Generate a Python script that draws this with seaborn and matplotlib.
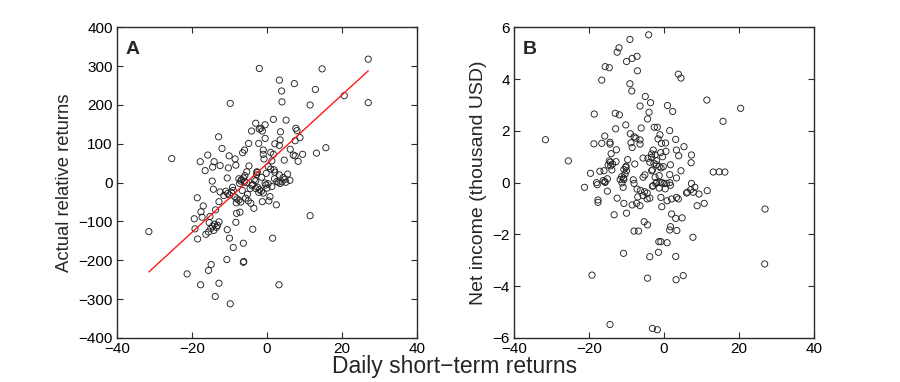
import numpy as np
import pandas as pd
import matplotlib
matplotlib.use("Agg")
import matplotlib.pyplot as plt
import seaborn as sns

# ---------------- data ----------------
# Panel A: daily short-term returns vs actual relative returns
a_x = [-2.05, 27.0, 14.7, 3.3, 7.3, 3.9, 12.9, 20.6, -9.8, 4.0, 27.0, 11.5, 1.7, 5.1,
       -3.0, -0.5, -4.1, -2.05, -1.6, -1.25, 3.6, 7.7, 8.0, -12.9, 8.8, -0.5, 3.5, 7.5,
       -4.9, -2.2, 2.1, 3.3, -12.0, 6.2, 15.7, -6.0, -1.0, -6.5, 1.0, 13.2, 9.5, 7.0,
       7.5, -1.0, 1.7, -15.8, -10.1, -8.5, -25.4, 4.6, 8.3, -0.8, 1.3, -17.8, -14.1,
       -12.5, -8.3, -4.8, 0.35, -14.5, -10.3, 1.0, 1.9, -16.5, -5.4, -2.7, -2.6, 3.3,
       5.5, 2.1, 4.3, -1.4, -2.8, 6.1, -10.6, -14.6, -7.5, -6.8, -7.0, -6.3, -6.0, -7.3,
       -5.5, 2.6, 3.5, 3.0, -0.5, -0.3, 0.3, 1.3, 4.0, 5.0, -3.8, -3.0, -2.5, -2.0,
       -1.5, -1.0, -3.0, -4.0, -2.2, -18.6, -14.3, -12.5, -11.0, -10.5, -10.0, -9.5,
       -9.0, -8.5, -8.0, -7.5, -8.2, -7.0, -5.7, -5.0, -4.3, -3.5, 0.8, 0.5, -1.25,
       2.5, -12.8, -17.0, -17.6, -13.7, -7.2, -8.1, -19.4, -17.3, -15.2, -15.4, -12.8,
       -14.0, -14.5, -15.0, -13.5, -13.2, -14.2, -15.6, -19.2, -10.6, -8.3, -3.8,
       -18.5, -16.3, -10.0, -6.3, -9.0, 1.5, 11.5, -31.5, -21.3, -17.7, -14.9, -15.6,
       -12.8, -13.8, -9.8, -10.7, -6.3, -6.2, 3.2, -4.5, -6.6, -5.2, -3.4, 0.0, 2.0,
       -11.5, -9.2, -5.9, -0.2, 4.8]
a_y = [294, 318, 293, 264, 255, 236, 240, 224, 204, 208, 206, 200, 163, 161,
       153, 149, 133, 138, 140, 133, 131, 140, 134, 118, 116, 114, 110, 108,
       101, 101, 100, 96, 88, 86, 90, 84, 84, 77, 78, 76, 73, 71,
       69, 73, 73, 71, 69, 61, 62, 58, 55, 61, 56, 54, 54,
       44, 45, 43, 41, 40, 38, 35, 33, 31, 28, 28, 26, 20,
       22, 27, 13, 14, 20, 6, 12, 4, 10, 8, 4, 12, 2, -2,
       0, 3, -2, 1, -1, -6, -3, -10, 2, 1, -5, 5, -12, -18,
       -22, -27, -15, -8, -25, -39, -17, -24, -22, -28, -32, -25,
       -20, -37, -42, -45, -52, -50, -40, -47, -53, -66, -36, -47, -49,
       -57, -49, -60, -75, -70, -76, -79, -93, -89, -87, -103, -101,
       -107, -112, -118, -115, -110, -123, -127, -119, -121, -102, -120,
       -145, -133, -143, -156, -167, -143, -85, -126, -235, -263, -211, -226,
       -259, -293, -312, -198, -205, -203, -263, -15, -20, -30, 8, -14, 10,
       -33, -12, 18, 24, 9]

# fitted regression line (slope / intercept)
fit_slope = 8.85
fit_intercept = 49.0

# Panel B: daily short-term returns vs net income (thousand USD)
b_x = [-4.1, -9.1, -12.0, -12.5, -7.2, -8.5, -10.0, -15.7, -14.6, -7.1, 3.8, 4.5,
       -16.6, -9.1, -8.6, -5.0, 11.4, -3.6, 0.9, -6.4, 20.4, 2.3, -4.0, -13.0, -18.6,
       -11.9, -4.4, 15.7, -10.2, -2.6, -1.8, -6.1, -12.9, 1.5, -9.0, -1.1, -15.8, -8.0,
       -7.5, 3.1, -31.6, -6.4, -1.6, -18.7, -14.4, -14.4, -16.6, -8.8, -6.4, -0.7, 0.4,
       5.3, -8.5, -12.7, -2.9, 3.3, 0.5, -0.9, -14.1, -3.3, -2.4, 7.3, 3.9, -0.4, -5.6,
       -4.3, -3.3, -9.7, -2.0, -25.5, -14.6, -12.8, -3.8, -14.3, 7.2, -2.7, -13.7, -7.8,
       -2.0, 1.7, -14.9, -10.2, -14.2, -10.1, -1.3, -0.2, -0.8, -10.7, -3.1, -13.9,
       -16.0, -17.1, 4.5, -3.3, -10.0, 13.1, 14.7, 16.2, -19.6, -10.4, 1.5, -5.1, -1.3,
       -11.3, -10.8, -5.6, -2.4, 3.3, -15.1, -8.2, -11.7, -10.7, -16.2, -15.8,
       -18.0, -17.8, -2.0, -1.1, -0.5, 0.0, 0.7, 1.5, 7.3, -15.7, -11.2, -8.0, -2.2,
       -2.9, -3.1, 1.7, -21.2, -10.9, 8.2, -1.3, 0.3, -7.2, -15.1, 7.1, 11.5, -6.3,
       -5.2, 7.8, 6.2, 6.0, -4.5, 9.3, -5.6, -3.8, -7.0, -0.85, 3.3, -12.5, -4.5, 2.0,
       3.8, -17.6, 0.8, -17.6, -10.7, -7.3, 10.7, -8.5, -6.4, 8.8, -0.6, -10.0, 2.0,
       -13.3, 4.8, 3.1, -5.3, -4.4, 1.7, 1.5, 3.4, -8.0, -6.8, 7.7, -1.4, -0.85, 0.8,
       -1.5, -10.8, -3.8, 3.1, 26.8, -19.2, 5.1, -4.4, 3.2, -14.4, -3.1, -1.8, 26.9]
b_y = [5.71, 5.53, 5.21, 5.04, 4.88, 4.80, 4.68, 4.48, 4.44, 4.32, 4.19, 4.04,
       3.96, 3.82, 3.54, 3.33, 3.19, 3.09, 2.98, 2.96, 2.87, 2.75, 2.72, 2.68, 2.65,
       2.62, 2.46, 2.37, 2.23, 2.14, 2.14, 2.11, 2.08, 2.01, 1.89, 1.85, 1.80, 1.77,
       1.72, 1.67, 1.66, 1.65, 1.69, 1.50, 1.56, 1.49, 1.52, 1.54, 1.49, 1.52, 1.53,
       1.39, 1.36, 1.27, 1.26, 1.26, 1.21, 1.16, 1.12, 1.11, 1.07, 1.07, 1.04, 1.00, 0.95,
       0.94, 0.98, 0.89, 0.85, 0.84, 0.84, 0.81, 0.79, 0.79, 0.77, 0.75, 0.72, 0.72,
       0.69, 0.69, 0.68, 0.59, 0.65, 0.63, 0.62, 0.62, 0.57, 0.51, 0.49, 0.49,
       0.46, 0.44, 0.46, 0.46, 0.46, 0.41, 0.42, 0.41, 0.36, 0.33, 0.31, 0.30, 0.27,
       0.23, 0.18, 0.21, 0.21, 0.18, 0.15, 0.11, 0.12, 0.12, 0.08, 0.04,
       0.0, -0.08, 0.01, 0.0, 0.0, -0.03, -0.03, 0.0, -0.03, 0.01, -0.01, -0.03, -0.03,
       -0.12, -0.14, -0.10, -0.18, -0.18, -0.18, -0.21, -0.24, -0.25, -0.33, -0.27, -0.31, -0.30,
       -0.35, -0.37, -0.37, -0.40, -0.40, -0.44, -0.50, -0.60, -0.55, -0.57, -0.57, -0.60, -0.63, -0.63,
       -0.63, -0.67, -0.70, -0.76, -0.80, -0.80, -0.80, -0.86, -0.89, -0.89, -0.93, -1.18, -1.21,
       -1.24, -1.36, -1.38, -1.51, -1.63, -1.70, -1.83, -1.85, -1.87, -1.87, -2.11, -2.28, -2.28, -2.32,
       -2.69, -2.73, -2.86, -2.85, -3.14, -3.57, -3.59, -3.69, -3.75, -5.48, -5.63, -5.68, -1.02]

x_ticks = [-40, -20, 0, 20, 40]
a_yticks = [-400, -300, -200, -100, 0, 100, 200, 300, 400]
b_yticks = [-6, -4, -2, 0, 2, 4, 6]

xlabel = "Daily short\u2212term returns"
a_ylabel = "Actual relative returns"
b_ylabel = "Net income (thousand USD)"

# ---------------- styling ----------------
sns.set_style("ticks")
plt.rcParams["font.family"] = ["Liberation Sans", "DejaVu Sans"]
plt.rcParams["axes.edgecolor"] = "#2b2b2b"
plt.rcParams["axes.linewidth"] = 1.0

fig = plt.figure(figsize=(9.0, 3.82), dpi=100)
axA = fig.add_axes([0.130, 0.1152, 0.3333, 0.8133])
axB = fig.add_axes([0.571, 0.1152, 0.3337, 0.8133])

dfA = pd.DataFrame({"x": a_x, "y": a_y})
dfB = pd.DataFrame({"x": b_x, "y": b_y})

scatter_kw = dict(marker="o", s=20, facecolors="none", edgecolors="#222222",
                  linewidths=0.65, legend=False)
sns.scatterplot(data=dfA, x="x", y="y", ax=axA, **scatter_kw)
sns.scatterplot(data=dfB, x="x", y="y", ax=axB, **scatter_kw)

line_x = np.array([min(a_x), max(a_x)])
line_df = pd.DataFrame({"x": line_x, "y": fit_intercept + fit_slope * line_x})
sns.lineplot(data=line_df, x="x", y="y", ax=axA, color="#ff1a1a", linewidth=1.0)

for ax, yt, lab, panel, lfs in [(axA, a_yticks, a_ylabel, "A", 13.3),
                                (axB, b_yticks, b_ylabel, "B", 14.0)]:
    ax.set_xlim(-40, 40)
    ax.set_ylim(yt[0], yt[-1])
    ax.set_xticks(x_ticks)
    ax.set_yticks(yt)
    ax.tick_params(direction="in", length=4, width=0.8, top=True, right=True,
                   labelsize=11, colors="#2b2b2b", labelcolor="black", pad=3)
    for s in ax.spines.values():
        s.set_visible(True)
    ax.set_xlabel("")
    ax.set_ylabel(lab, fontsize=lfs, labelpad=4)
    ax.text(0.03, 0.955, panel, transform=ax.transAxes, fontsize=14,
            fontweight="bold", va="top", ha="left")

fig.text(0.505, 0.04, xlabel, ha="center", va="center", fontsize=16.5)

fig.savefig("out.png", dpi=100)
